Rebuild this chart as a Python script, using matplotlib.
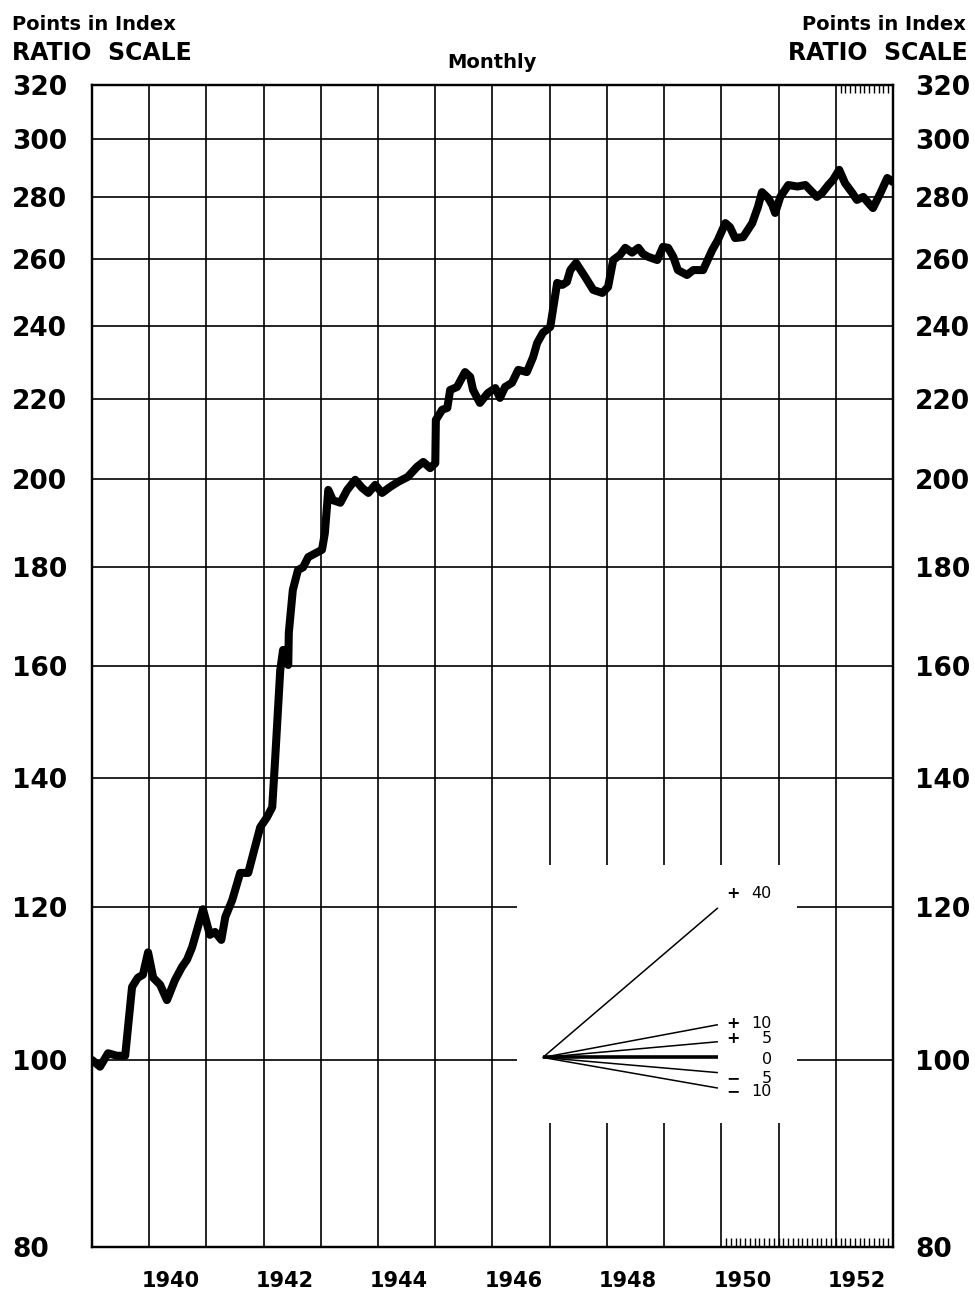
import numpy as np
import matplotlib
matplotlib.use("Agg")
import matplotlib.pyplot as plt
from matplotlib.ticker import NullLocator, FixedLocator
from matplotlib.patches import Rectangle
import matplotlib.transforms as mtransforms

# ---------------- data ----------------
years = [1939.00, 1939.14, 1939.28, 1939.44, 1939.58, 1939.70, 1939.80, 1939.89, 1939.98,
         1940.07, 1940.19, 1940.31, 1940.45, 1940.57, 1940.66, 1940.75, 1940.94,
         1941.06, 1941.15, 1941.26, 1941.33, 1941.45, 1941.59, 1941.73, 1941.94,
         1942.06, 1942.15, 1942.20, 1942.29, 1942.34, 1942.43, 1942.44, 1942.51, 1942.60,
         1942.69, 1942.78, 1943.02, 1943.07, 1943.13, 1943.21, 1943.34, 1943.46, 1943.60,
         1943.72, 1943.83, 1943.95, 1944.07, 1944.21, 1944.35, 1944.52, 1944.68, 1944.79,
         1944.91, 1945.00, 1945.01, 1945.12, 1945.21, 1945.26, 1945.38, 1945.52, 1945.61,
         1945.66, 1945.78, 1945.92, 1946.05, 1946.13, 1946.22, 1946.34, 1946.45, 1946.60,
         1946.71, 1946.78, 1946.88, 1947.01, 1947.13, 1947.22, 1947.30, 1947.36, 1947.46,
         1947.62, 1947.76, 1947.92, 1948.02, 1948.11, 1948.23, 1948.32, 1948.44, 1948.55,
         1948.63, 1948.72, 1948.88, 1948.98, 1949.07, 1949.16, 1949.24, 1949.40, 1949.51,
         1949.68, 1949.84, 1949.94, 1950.07, 1950.15, 1950.24, 1950.38, 1950.54, 1950.64,
         1950.71, 1950.82, 1950.89, 1950.94, 1951.03, 1951.17, 1951.33, 1951.47, 1951.59,
         1951.67, 1951.76, 1951.87, 1951.95, 1952.06, 1952.16, 1952.29, 1952.37, 1952.48,
         1952.57, 1952.65, 1952.78, 1952.90, 1953.00]
index = [100.0, 99.2, 100.8, 100.5, 100.5, 109.1, 110.3, 110.7, 113.7,
         110.3, 109.4, 107.4, 110.0, 111.7, 112.7, 114.4, 119.7,
         116.1, 116.5, 115.4, 118.6, 121.0, 125.0, 125.0, 132.0,
         133.6, 135.2, 143.0, 159.2, 163.1, 160.2, 166.5, 175.2, 179.4,
         180.0, 182.2, 183.8, 187.5, 197.4, 195.0, 194.4, 197.4, 199.8,
         197.9, 196.7, 198.6, 196.7, 198.1, 199.3, 200.5, 202.9, 204.1,
         202.6, 203.8, 214.6, 217.2, 217.7, 222.4, 223.2, 227.2, 225.9,
         222.4, 219.0, 221.6, 222.9, 220.3, 223.2, 224.3, 227.8, 227.2,
         231.3, 235.2, 238.1, 239.8, 252.7, 252.1, 253.0, 256.6, 258.8,
         254.5, 250.6, 249.7, 251.5, 259.7, 261.3, 263.5, 262.0, 263.5,
         261.6, 260.7, 259.7, 263.8, 263.5, 260.7, 256.6, 255.1, 256.6,
         256.6, 262.8, 266.0, 271.4, 270.1, 266.6, 266.9, 271.4, 276.7,
         281.6, 279.6, 277.3, 274.7, 280.0, 284.0, 283.5, 284.0, 281.6,
         280.0, 281.3, 284.0, 285.7, 289.2, 284.7, 281.3, 279.0, 280.0,
         278.0, 276.3, 281.3, 286.4, 285.0]

y_ticks = [80, 100, 120, 140, 160, 180, 200, 220, 240, 260, 280, 300, 320]
y_labels = [str(v) for v in y_ticks]
grid_years = list(range(1940, 1953))
x_label_years = [1940, 1942, 1944, 1946, 1948, 1950, 1952]
x_labels = [str(y) for y in x_label_years]

# slope key (ratio-rate guide lines)
key_origin = (1946.88, 100.3)
key_end_x = 1949.94
key_signs = ["+", "+", "+", "", "\u2212", "\u2212"]
key_numbers = ["40", "10", "5", "0", "5", "10"]
key_end_y = [119.9, 104.3, 102.2, 100.3, 98.5, 96.7]
key_label_y = [122.0, 104.5, 102.6, 100.0, 97.8, 96.3]

FONT = "DejaVu Sans"
plt.rcParams['font.family'] = [FONT]

fig = plt.figure(figsize=(9.75, 12.9), dpi=100)
L, R, T, B = 92, 893, 85, 1247
W, H = 975, 1290
ax = fig.add_axes([L / W, 1 - B / H, (R - L) / W, (B - T) / H])
ax.set_yscale('log')
ax.set_ylim(80, 320)
ax.set_xlim(1939, 1953)

ax.yaxis.set_major_locator(FixedLocator(y_ticks))
ax.yaxis.set_minor_locator(NullLocator())
ax.set_yticks(y_ticks)
ax.set_yticklabels(y_labels, fontsize=19, fontweight='bold')
for lab in ax.get_yticklabels():
    lab.set_horizontalalignment('left')
ax.tick_params(axis='y', which='major', length=0, pad=(L - 12) * 0.72)

ax.set_xticks(grid_years)
ax.set_xticklabels([])
ax.set_xticks([y + 0.37 for y in x_label_years], minor=True)
ax.set_xticklabels(x_labels, minor=True, fontsize=15, fontweight='bold')
ax.tick_params(axis='x', which='both', length=0)
ax.tick_params(axis='x', which='minor', pad=17)

ax.grid(True, which='major', color='black', linewidth=1.2)
ax.set_axisbelow(True)
for s in ax.spines.values():
    s.set_linewidth(1.6)

# right axis
ax2 = ax.twinx()
ax2.set_yscale('log')
ax2.set_ylim(80, 320)
ax2.yaxis.set_minor_locator(NullLocator())
ax2.set_yticks(y_ticks)
ax2.set_yticklabels(y_labels, fontsize=19, fontweight='bold')
ax2.yaxis.set_minor_locator(NullLocator())
ax2.tick_params(axis='y', which='both', length=0, pad=(915 - R) * 0.72)
for s in ax2.spines.values():
    s.set_linewidth(1.6)

# white box for the key
box_x0, box_x1 = 1946.43, 1951.33
box_y0, box_y1 = 92.75, 126.2
ax.add_patch(Rectangle((box_x0, box_y0), box_x1 - box_x0, box_y1 - box_y0,
                       facecolor='white', edgecolor='none', zorder=1))

for sign, num, ye, yl in zip(key_signs, key_numbers, key_end_y, key_label_y):
    lw = 2.6 if num == "0" else 1.1
    ax.plot([key_origin[0], key_end_x], [key_origin[1], ye], color='black',
            lw=lw, zorder=2, solid_capstyle='butt')
    if sign:
        ax.text(1950.21, yl, sign, ha='center', va='center', fontsize=11.5,
                fontweight='bold', zorder=3)
    ax.text(1950.88, yl, num, ha='right', va='center', fontsize=11.5, zorder=3)

# monthly tick marks
trans = mtransforms.blended_transform_factory(ax.transData, ax.transAxes)
top_months = np.arange(1952, 1953, 1 / 12)[1:]
bot_months = np.arange(1950, 1953, 1 / 12)[1:]
ax.vlines(top_months, 1 - 8 / (B - T), 1, transform=trans, color='black', lw=1.0, zorder=2)
ax.vlines(bot_months, 0, 9 / (B - T), transform=trans, color='black', lw=1.0, zorder=2)

# main series
ax.plot(years, index, color='black', lw=5.8, solid_joinstyle='round',
        solid_capstyle='round', zorder=5)

# header texts
fig.text(12 / W, 1 - 25 / H, "Points in Index", ha='left', va='center', fontsize=14, fontweight='bold')
fig.text(12 / W, 1 - 53 / H, "RATIO  SCALE", ha='left', va='center', fontsize=17, fontweight='bold')
fig.text(966 / W, 1 - 25 / H, "Points in Index", ha='right', va='center', fontsize=14, fontweight='bold')
fig.text(968 / W, 1 - 53 / H, "RATIO  SCALE", ha='right', va='center', fontsize=17, fontweight='bold')
fig.text(492 / W, 1 - 62 / H, "Monthly", ha='center', va='center', fontsize=14, fontweight='bold')

fig.savefig("out.png", dpi=100)
